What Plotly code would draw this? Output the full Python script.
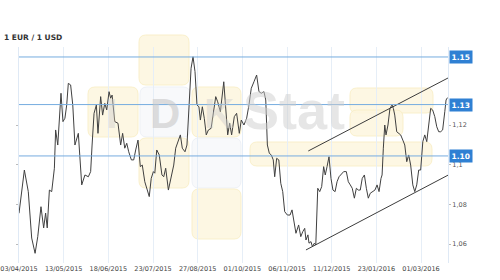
import plotly.graph_objects as go

# ---------------- data ----------------
title_text = "1 EUR / 1 USD"
date_labels = ["03/04/2015", "13/05/2015", "18/06/2015", "23/07/2015", "27/08/2015",
               "01/10/2015", "06/11/2015", "11/12/2015", "23/01/2016", "01/03/2016"]
date_tick_index = [0, 25, 50, 75, 100, 125, 150, 175, 200, 225]
y_tick_values = [1.06, 1.08, 1.10, 1.12]
y_tick_labels = ["1,06", "1,08", "1,1", "1,12"]

rate_index = [
    0, 1.1, 3.0, 5.2, 7.1, 9.0, 10.5, 12.3, 13.8, 14.9, 15.8, 17.0, 18.3, 19.8, 20.5, 21.7, 22.6, 23.5, 24.6, 25.7,
    26.7, 27.6, 28.9, 30.1, 31.3, 33.2, 35.1, 36.9, 38.8,
    40.1, 40.9, 42.0, 43.3, 44.2, 45.7, 46.8, 48.0, 49.1, 50.4, 51.3, 52.1, 53.6, 55.4, 56.9, 58.0, 59.2, 60.3, 61.4, 62.9,
    64.2, 65.3, 66.6, 67.9, 69.0, 70.4, 71.8, 72.9, 74.0, 75.2, 76.0, 77.1, 78.5, 80.0,
    81.0, 82.1, 83.6, 85.1, 86.6, 87.7, 89.2, 90.3, 91.4, 92.9, 94.0, 95.1, 96.3, 97.4, 98.5, 99.6, 100.7, 101.5, 102.6, 103.7,
    104.8, 106.0, 107.5, 108.6, 110.1, 111.2, 112.7, 114.6, 115.7, 116.8, 117.9, 119.0, 120.5,
    121.8, 123.3, 124.4, 125.9, 127.4, 128.7, 130.0, 131.5, 133.0, 134.3, 135.6, 137.1, 138.1, 139.0, 140.1, 141.2, 142.3, 143.1, 144.2, 145.4,
    146.5, 147.6, 148.7, 150.2, 151.7, 152.8, 153.9, 155.0, 156.5, 157.7, 158.8, 159.9, 160.6, 161.7,
    162.3, 163.4, 164.2, 165.3, 166.1, 167.2, 168.3, 169.4, 170.5, 171.4, 172.4, 173.5, 174.6, 175.7, 176.9, 178.0, 179.1, 180.2, 181.7, 183.2,
    184.3, 185.4, 186.5, 187.7, 188.8, 189.9, 191.0, 192.1, 193.3, 194.4, 195.5, 196.6, 197.7, 199.2, 200.4, 201.5, 202.6, 203.2,
    203.9, 204.7, 205.4, 206.5, 207.6, 208.8, 209.5, 210.3, 211.4, 212.5, 213.6, 214.8, 215.9, 217.0, 218.1, 219.2, 220.4, 221.5, 222.6, 223.7,
    224.8, 226.0, 227.1, 228.2, 229.3, 230.4, 231.5, 232.7, 233.8, 234.9, 236.0, 237.1, 238.3, 239.0, 239.8,
]
rate_value = [
    1.0755, 1.0832, 1.0973, 1.0864, 1.0630, 1.0553, 1.0637, 1.0788, 1.0681, 1.0756, 1.0681, 1.0872, 1.0864, 1.0982, 1.1175, 1.1099, 1.1250, 1.1360, 1.1217, 1.1234,
    1.1301, 1.1410, 1.1402, 1.1301, 1.1099, 1.1158, 1.0898, 1.0948, 1.0939,
    1.0965, 1.1099, 1.1259, 1.1301, 1.1158, 1.1343, 1.1250, 1.1309, 1.1276, 1.1368, 1.1335, 1.1351, 1.1217, 1.1209, 1.1099, 1.1158, 1.1083, 1.1108, 1.1065, 1.1024,
    1.1024, 1.1074, 1.1124, 1.0990, 1.0998, 1.0914, 1.0872, 1.0839, 1.0931, 1.0965, 1.0957, 1.1074, 1.1049, 1.0948,
    1.0939, 1.0982, 1.0872, 1.0931, 1.0998, 1.1083, 1.1116, 1.1150, 1.1083, 1.1065, 1.1099, 1.1301, 1.1486, 1.1544, 1.1469, 1.1301, 1.1292, 1.1225, 1.1292, 1.1234,
    1.1150, 1.1175, 1.1183, 1.1250, 1.1343, 1.1317, 1.1267, 1.1418, 1.1284, 1.1150, 1.1209, 1.1150, 1.1242,
    1.1259, 1.1158, 1.1225, 1.1200, 1.1234, 1.1301, 1.1385, 1.1418, 1.1452, 1.1368, 1.1360, 1.1368, 1.1326, 1.1099, 1.1057, 1.1049, 1.1024, 1.0939, 1.1032, 1.1024,
    1.0906, 1.0864, 1.0763, 1.0746, 1.0746, 1.0772, 1.0713, 1.0654, 1.0696, 1.0637, 1.0662, 1.0679, 1.0620, 1.0646,
    1.0604, 1.0612, 1.0587, 1.0604, 1.0595, 1.0881, 1.0864, 1.0889, 1.0990, 1.0948, 1.0990, 1.1040, 1.0931, 1.0872, 1.0864, 1.0914, 1.0939, 1.0948, 1.0965, 1.0965,
    1.0914, 1.0898, 1.0881, 1.0831, 1.0881, 1.0872, 1.0872, 1.0931, 1.0948, 1.0881, 1.0831, 1.0856, 1.0864, 1.0872, 1.0898, 1.0864, 1.0931, 1.0948,
    1.1083, 1.1200, 1.1150, 1.1200, 1.1284, 1.1301, 1.1284, 1.1250, 1.1166, 1.1158, 1.1150, 1.1124, 1.1099, 1.1015, 1.1049, 1.0998, 1.0898, 1.0864, 1.0898, 1.0973,
    1.0973, 1.1116, 1.1150, 1.1116, 1.1217, 1.1284, 1.1276, 1.1242, 1.1191, 1.1166, 1.1166, 1.1175, 1.1267, 1.1326, 1.1338,
]

level_values = [1.1543, 1.1303, 1.1044]
level_labels = ["1.15", "1.13", "1.10"]

upper_trend_index = [161.9, 240.3]
upper_trend_value = [1.1069, 1.1438]
lower_trend_index = [160.6, 240.3]
lower_trend_value = [1.0570, 1.0948]

# ---------------- layout helpers ----------------
W, H = 500, 280
ML, MR, MT, MB = 19, 52, 47, 17
PW, PH = W - ML - MR, H - MT - MB


def px(X):
    return (X - ML) / PW


def py(Y):
    return (H - MB - Y) / PH


def rrect_path(x0, y0, x1, y1, r):
    pts = [
        ("M", [(x0 + r, y0)]), ("L", [(x1 - r, y0)]), ("Q", [(x1, y0), (x1, y0 + r)]),
        ("L", [(x1, y1 - r)]), ("Q", [(x1, y1), (x1 - r, y1)]), ("L", [(x0 + r, y1)]),
        ("Q", [(x0, y1), (x0, y1 - r)]), ("L", [(x0, y0 + r)]), ("Q", [(x0, y0), (x0 + r, y0)]),
    ]
    s = ""
    for cmd, ps in pts:
        s += cmd + " " + " ".join(f"{px(a):.5f},{py(b):.5f}" for a, b in ps) + " "
    return s + "Z"


YELLOW_FILL, YELLOW_LINE = "rgba(253,246,222,0.85)", "rgba(248,238,200,0.9)"
WHITE_FILL, WHITE_LINE = "rgba(247,248,251,0.9)", "rgba(236,239,245,0.9)"

shapes = []
boxes = [
    (139, 35, 189, 85, "y"),
    (88, 87, 138, 137, "y"),
    (140, 87, 190, 137, "w"),
    (192, 87, 241, 137, "y"),
    (139, 138, 189, 188, "y"),
    (192, 138, 241, 188, "w"),
    (192, 189, 241, 239, "y"),
    (250, 142, 432, 166, "y"),
    (350, 88, 433, 113, "y"),
    (350, 110, 403, 136, "y"),
]
for x0, y0, x1, y1, kind in boxes:
    fill, line = (YELLOW_FILL, YELLOW_LINE) if kind == "y" else (WHITE_FILL, WHITE_LINE)
    shapes.append(dict(type="path", xref="paper", yref="paper", path=rrect_path(x0, y0, x1, y1, 7),
                       fillcolor=fill, line=dict(color=line, width=1), layer="below"))

LEVEL_COLOR = "#76acdf"
for v in level_values:
    shapes.append(dict(type="line", xref="paper", yref="y", x0=0, x1=1, y0=v, y1=v,
                       line=dict(color=LEVEL_COLOR, width=1), layer="above"))

annotations = []
# watermark letters
wm_font = "Liberation Sans"
for txt, X, Y, size, col in [
    ("I", 112, 113, 42, "rgba(205,205,205,0.45)"),
    ("D", 165, 113, 42, "rgba(200,200,200,0.6)"),
    ("K", 219, 113, 42, "rgba(205,205,205,0.45)"),
    ("Stat", 294, 110, 54, "rgba(205,205,205,0.5)"),
]:
    annotations.append(dict(xref="paper", yref="paper", x=px(X), y=py(Y), text=f"<b>{txt}</b>",
                            showarrow=False, xanchor="center", yanchor="middle",
                            font=dict(family=wm_font, size=size, color=col)))

annotations.append(dict(xref="paper", yref="paper", x=px(2), y=py(37), text=f"<b>{title_text}</b>",
                        showarrow=False, xanchor="left", yanchor="middle",
                        font=dict(family="DejaVu Sans", size=7.5, color="#333333")))

for v, lab in zip(level_values, level_labels):
    annotations.append(dict(xref="paper", yref="y", x=1, y=v, xshift=1, text=f"<b>{lab}</b>",
                            showarrow=False, xanchor="left", yanchor="middle",
                            bgcolor="#2f80d3", borderpad=1.5,
                            font=dict(family="DejaVu Sans", size=7.5, color="white")))

# ---------------- figure ----------------
fig = go.Figure()
fig.add_trace(go.Scatter(x=upper_trend_index, y=upper_trend_value, mode="lines",
                         line=dict(color="#3c3c3c", width=1), hoverinfo="skip"))
fig.add_trace(go.Scatter(x=lower_trend_index, y=lower_trend_value, mode="lines",
                         line=dict(color="#3c3c3c", width=1), hoverinfo="skip"))
fig.add_trace(go.Scatter(x=rate_index, y=rate_value, mode="lines",
                         line=dict(color="#404040", width=1)))

fig.update_layout(
    width=W, height=H,
    margin=dict(l=ML, r=MR, t=MT, b=MB, pad=0, autoexpand=False),
    paper_bgcolor="white", plot_bgcolor="white",
    showlegend=False,
    shapes=shapes,
    annotations=annotations,
    xaxis=dict(
        automargin=False,
        range=[0, PW / (44.67 / 25)],
        tickmode="array", tickvals=date_tick_index, ticktext=date_labels,
        showgrid=True, gridcolor="#e6eef7", gridwidth=1,
        zeroline=False, showline=False, ticks="",
        tickfont=dict(family="DejaVu Sans", size=6.5, color="#444444"),
    ),
    yaxis=dict(
        automargin=False,
        range=[1.12 - 138 / 1983.3, 1.12 + 78 / 1983.3],
        side="right",
        tickmode="array", tickvals=y_tick_values, ticktext=y_tick_labels,
        showgrid=False, zeroline=False,
        showline=True, linecolor="#dfe9f5", linewidth=1, mirror="ticks",
        ticks="outside", ticklen=2, tickcolor="#bbbbbb",
        tickfont=dict(family="DejaVu Sans", size=6.5, color="#555555"),
    ),
)

fig.write_html("out.html")
